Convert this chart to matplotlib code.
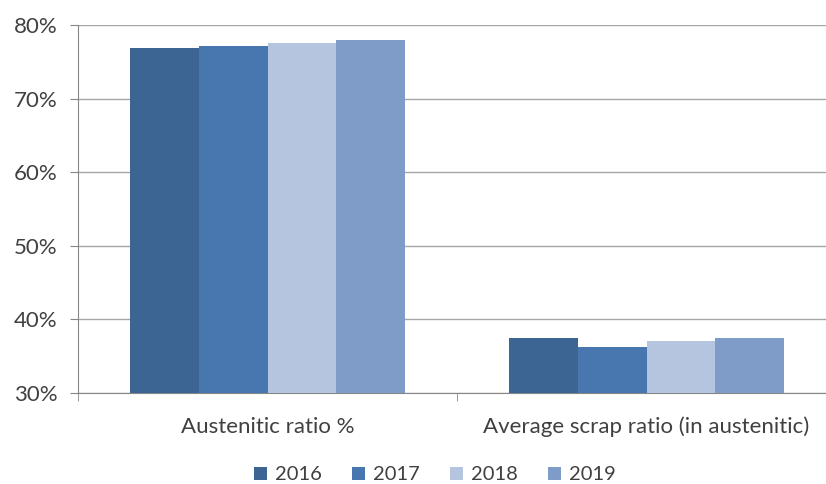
import matplotlib
matplotlib.use("Agg")
from matplotlib import pyplot as plt
from matplotlib.ticker import MultipleLocator, FuncFormatter
import numpy as np

categories = ["Austenitic ratio %", "Average scrap ratio (in austenitic)"]
years = ["2016", "2017", "2018", "2019"]
v2016 = [76.9, 37.5]
v2017 = [77.2, 36.2]
v2018 = [77.6, 37.0]
v2019 = [78.0, 37.5]
series = [v2016, v2017, v2018, v2019]
colors = ["#3D6594", "#4877B0", "#B5C4DF", "#7F9BC7"]

plt.rcParams['font.family'] = ['Lato', 'DejaVu Sans']

fig = plt.figure(figsize=(8.26, 4.84), dpi=100)
ax = fig.add_axes([78 / 826, 91 / 484, 758 / 826, 368 / 484])

x = np.arange(len(categories))
w = 0.728 / 4
for i, (vals, c) in enumerate(zip(series, colors)):
    ax.bar(x + (i - 1.5) * w, np.array(vals) - 30, w, bottom=30, color=c,
           label=years[i], zorder=3)

ax.set_ylim(30, 80)
ax.set_xlim(-0.5, 1.5)
ax.yaxis.set_major_locator(MultipleLocator(10))
ax.yaxis.set_major_formatter(FuncFormatter(lambda v, p: f"{v:.0f}%"))
ax.grid(axis='y', color='#A6A6A6', linewidth=1, zorder=0)

ax.set_xticks(x)
ax.set_xticklabels(categories)
ax.set_xticks([-0.5, 0.5], minor=True)
ax.tick_params(axis='x', which='major', length=0, pad=17, labelsize=16, colors='#404040')
ax.tick_params(axis='x', which='minor', length=6, color='#868686')
ax.tick_params(axis='y', length=6, color='#868686', labelsize=16, pad=9,
               labelcolor='#404040')

for s in ['top', 'right']:
    ax.spines[s].set_visible(False)
for s in ['left', 'bottom']:
    ax.spines[s].set_color('#868686')

ax.legend(loc='center', bbox_to_anchor=(435 / 826, 9 / 484),
          bbox_transform=fig.transFigure, ncol=4, frameon=False,
          fontsize=14.5, handlelength=0.65, handleheight=0.65,
          columnspacing=1.5, handletextpad=0.4, labelcolor='#404040')

fig.savefig("out.png", dpi=100)
